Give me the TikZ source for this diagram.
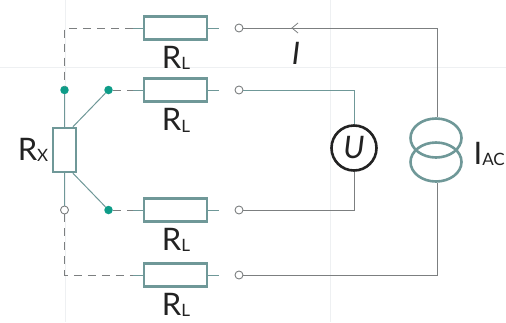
\documentclass[tikz,border=0pt]{standalone}
\usepackage{fontspec}
\setmainfont{Lato}
\usepackage{tikz}
\usetikzlibrary{arrows,positioning}
\usetikzlibrary{shapes.geometric}
\definecolor{wireteal}{HTML}{6F9898}
\definecolor{wiregrey}{HTML}{7C7F80}
\definecolor{dotgreen}{HTML}{0E9C88}
\definecolor{guidegrey}{HTML}{EEF0F2}
\definecolor{inkblack}{HTML}{222222}
\newcommand{\Rlabel}[1]{\fontsize{31}{31}\selectfont R\raisebox{-1.5pt}{\fontsize{17}{17}\selectfont #1}}
\tikzset{
  resistor/.style={rectangle,draw=wireteal,line width=2.5pt,fill=white,minimum width=63pt,minimum height=23pt,inner sep=0pt},
  terminal/.style={circle,draw=wiregrey,line width=0.9pt,fill=white,minimum size=8pt,inner sep=0pt},
  solder/.style={circle,fill=dotgreen,draw=none,minimum size=8.5pt,inner sep=0pt},
  sourcering/.style={ellipse,draw=wireteal,line width=2.6pt,minimum width=51pt,minimum height=39pt,inner sep=0pt},
  tealwire/.style={draw=wireteal,line width=1.0pt},
  greywire/.style={draw=wiregrey,line width=1.0pt},
  dashwire/.style={draw=wiregrey,line width=1.0pt,dash pattern=on 8pt off 6pt},
  txt/.style={inkblack,inner sep=0pt}
}
\begin{document}
\begin{tikzpicture}[x=1pt,y=-1pt]
\useasboundingbox (0,0) rectangle (506,322);
% guide lines
\draw[guidegrey,line width=0.9pt] (65.5,0) -- (65.5,322);
\draw[guidegrey,line width=0.9pt] (330,0) -- (330,322);
\draw[guidegrey,line width=0.9pt] (0,67) -- (506,67);
% resistors
\node (r1) [resistor] at (175.5,28) {};
\node (r2) [resistor] at (175.5,90) {};
\node (r3) [resistor] at (175.5,210) {};
\node (r4) [resistor] at (175.5,275) {};
\node (rx) [rectangle,draw=wireteal,line width=2.5pt,fill=white,minimum width=23pt,minimum height=44pt,inner sep=0pt] at (64.5,150) {};
% terminals and dots
\node (t1) [terminal] at (239,28) {};
\node (t2) [terminal] at (239,90) {};
\node (t3) [terminal] at (239,210) {};
\node (t4) [terminal] at (239,275) {};
\node (d1) [solder] at (64.5,90) {};
\node (d2) [solder] at (108.5,90) {};
\node (d3) [solder] at (108.5,210) {};
\node (d4) [terminal] at (64.5,210) {};
% meter and source
\node (u) [circle,draw=inkblack,line width=2.6pt,minimum size=45pt,inner sep=0pt,font=\fontsize{31}{31}\selectfont\itshape,text=inkblack] at (354,148) {U};
\node (s1) [sourcering] at (436,138) {};
\node (s2) [sourcering] at (436,162) {};
%
\coordinate (c1) at (64.5,28);
\coordinate (c4) at (64.5,275);
\coordinate (a1) at (133,28);
\coordinate (a2) at (133,90);
\coordinate (a3) at (133,210);
\coordinate (a4) at (133,275);
\coordinate (b1) at (219,28);
\coordinate (b2) at (219,90);
\coordinate (b3) at (219,210);
\coordinate (b4) at (219,275);
\coordinate (e1) at (437,28);
\coordinate (e4) at (437,275);
\coordinate (e2) at (354,90);
\coordinate (e3) at (354,210);
\coordinate (tip) at (292,28);
%
\path[tealwire] (a1) edge (r1) (a2) edge (r2) (a3) edge (r3) (a4) edge (r4);
\path[tealwire] (r1) edge (b1) (r2) edge (b2) (r3) edge (b3) (r4) edge (b4);
\path[dashwire] (a1) -- (c1) -- (d1);
\path[dashwire] (d2) -- (a2);
\path[dashwire] (d3) -- (a3);
\path[dashwire] (d4) -- (c4) -- (a4);
%
\path[tealwire] (rx.north -| d1) edge (d1);
\path[tealwire] (rx.south -| d4) edge (d4);
\path[tealwire] (rx.70) edge (d2);
\path[tealwire] (rx.-70) edge (d3);
%
\draw[tealwire] (t2) -- (e2) -- (u);
\draw[greywire] (t3) -- (e3) -- (u);
\draw[greywire] (e1) -- (t1);
\draw[greywire] (s1.north -| e1) -- (e1);
\draw[greywire] (t4) -- (e4) -- (s2.south -| e4);
\draw[wiregrey,line width=0.8pt] (tip)++(6,-5) -- (tip) -- ++(6,5);
% labels
\node (lr1) [txt] at (176,58) {\Rlabel{L}};
\node (lr2) [txt] at (176,120.5) {\Rlabel{L}};
\node (lr3) [txt] at (176,240) {\Rlabel{L}};
\node (lr4) [txt] at (176,305) {\Rlabel{L}};
\node (lrx) [txt] at (33,150) {\Rlabel{X}};
\node (lac) [txt,anchor=east] at (505,154) {\fontsize{31}{31}\selectfont I\raisebox{-1.5pt}{\fontsize{17}{17}\selectfont AC}};
\node (li) [txt,font=\fontsize{31}{31}\selectfont\itshape] at (296,53) {I};
\end{tikzpicture}
\end{document}
